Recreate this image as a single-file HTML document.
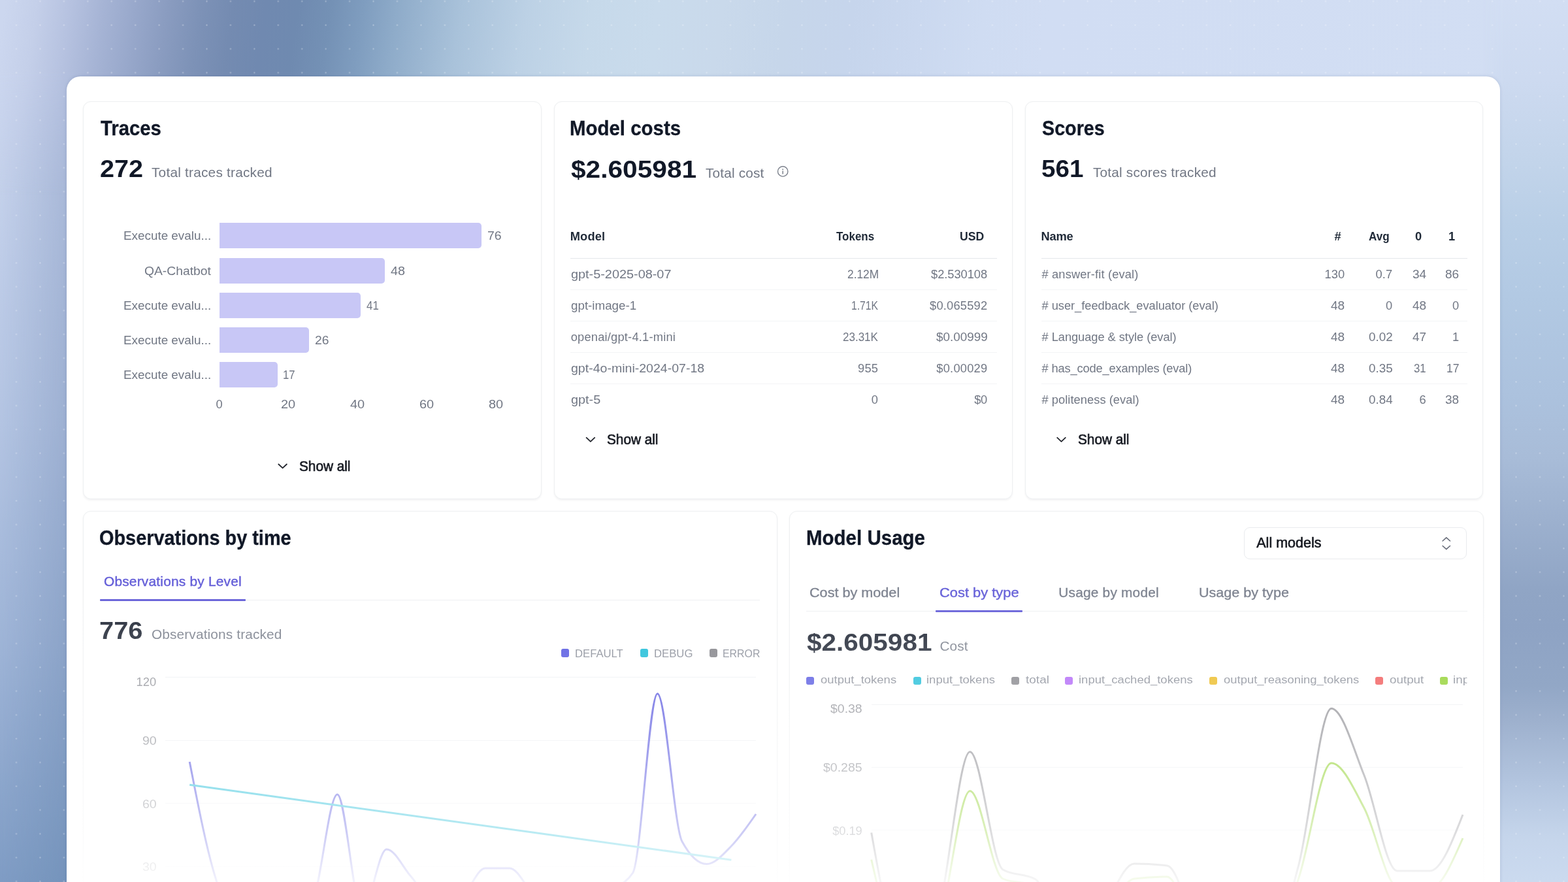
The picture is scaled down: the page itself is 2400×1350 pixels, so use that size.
<!DOCTYPE html>
<html lang="en">
<head>
<meta charset="utf-8">
<title>Dashboard</title>
<style>
html,body{margin:0;padding:0}
body{width:2400px;height:1350px;overflow:hidden;position:relative;background:#b9c8e4;font-family:"Liberation Sans",sans-serif}
.bg{position:absolute;left:0;top:0;width:2400px;height:1350px;overflow:hidden;background:#b9c8e4}
.bg .lb{position:absolute;left:0;top:0;width:130px;height:1350px;
 background:linear-gradient(180deg,#b0bedd 0px,#b0bedd 117px,#a8b8d8 300px,#9db0d2 650px,#8ba3c8 1000px,#7594bc 1350px)}
.bg .la{position:absolute;left:0;top:0;width:130px;height:1350px;
 background:linear-gradient(180deg,#c8d4ee 0px,#c8d4ee 117px,#c3d0ea 300px,#b3c4e2 650px,#9db3d6 1000px,#7f9cc4 1350px);
 -webkit-mask-image:linear-gradient(90deg,#000 0px,transparent 104px);mask-image:linear-gradient(90deg,#000 0px,transparent 104px)}
.bg .right{position:absolute;left:2270px;top:0;width:130px;height:1350px;
 background:linear-gradient(180deg,#d2def3 0px,#cddaf0 120px,#c2d4ea 250px,#b8cee6 350px,#b2c9e3 450px,#acc2de 600px,#a8bcd8 700px,#9cb0ce 800px,#90a5c5 900px,#8ea3c4 960px,#92a7c6 1050px,#9db0cd 1100px,#b3c5df 1200px,#c5d5eb 1280px,#cbdaef 1350px);
 -webkit-mask-image:linear-gradient(90deg,transparent 0px,#000 30px);mask-image:linear-gradient(90deg,transparent 0px,#000 30px)}
.bg .top{position:absolute;left:0;top:0;width:2400px;height:320px;background:linear-gradient(98deg,#ccd7ef 0.33%,#c4cfe9 2.38%,#b6c2e0 4.42%,#a6b4d5 6.47%,#98a8cb 8.51%,#8a9cc0 10.56%,#7d92b7 12.60%,#748bb1 14.65%,#7089b0 16.69%,#6f8ab0 18.74%,#7491b5 20.78%,#7f9dbf 22.83%,#8eabc9 24.87%,#a9c2da 28.96%,#bcd1e5 33.05%,#c6d9ea 37.14%,#c9dbec 41.23%,#c9d9eb 45.32%,#c6d6ea 49.41%,#c6d5ec 53.50%,#cad8ef 57.59%,#cfdcf2 61.68%,#d1ddf3 65.77%,#d2def3 98.49%);
 -webkit-mask-image:linear-gradient(180deg,#000 0px,#000 110px,transparent 300px);mask-image:linear-gradient(180deg,#000 0px,#000 110px,transparent 300px)}
.dots{position:absolute;left:0;top:0;width:2400px;height:1350px;
 background-image:radial-gradient(circle at center,rgba(255,255,255,.36) 0,rgba(255,255,255,.3) .75px,rgba(255,255,255,0) 1.55px);
 background-size:36.44px 36.42px;background-position:6.78px -16.2px}
.panel{position:absolute;left:102px;top:117px;width:2194px;height:1300px;background:#fff;border-radius:21px;box-shadow:0 0 5px rgba(40,55,100,.15)}
.card{position:absolute;box-sizing:border-box;border:1.5px solid #eef0f2;border-radius:12px;background:#fff;box-shadow:0 1.5px 3px rgba(16,24,40,.05)}
.layer{position:absolute;left:0;top:0;width:2400px;height:1350px;overflow:hidden}
.t{position:absolute;white-space:nowrap;line-height:1;font-weight:400;transform-origin:0 0}
.fade{position:absolute;left:102px;top:850px;width:2194px;height:500px;
 background:linear-gradient(180deg,rgba(255,255,255,0) 0px,rgba(255,255,255,.18) 115px,rgba(255,255,255,.30) 191px,rgba(255,255,255,.48) 301px,rgba(255,255,255,.72) 425px,rgba(255,255,255,.87) 477px,rgba(255,255,255,.93) 500px)}
svg{position:absolute;left:0;top:0;overflow:visible}
</style>
</head>
<body>
<div class="bg"><div class="lb"></div><div class="la"></div><div class="top"></div><div class="right"></div><div class="dots"></div></div>
<div class="panel"></div>
<div class="layer">
<div class="card" style="left:126.8px;top:154.9px;width:702.7px;height:609.2px"></div>
<div class="card" style="left:848px;top:154.9px;width:702px;height:609.2px"></div>
<div class="card" style="left:1568.8px;top:154.9px;width:701.7px;height:609.2px"></div>
<div class="card" style="left:126.8px;top:781.6px;width:1063.2px;height:700px"></div>
<div class="card" style="left:1208px;top:781.6px;width:1062.5px;height:700px"></div>
<div style="position:absolute;left:335.50px;top:341.10px;width:401.85px;height:39.10px;background:#c8c7f6;border-radius:0 5px 5px 0;"></div>
<div style="position:absolute;left:335.50px;top:394.70px;width:253.80px;height:39.10px;background:#c8c7f6;border-radius:0 5px 5px 0;"></div>
<div style="position:absolute;left:335.50px;top:447.70px;width:216.79px;height:39.10px;background:#c8c7f6;border-radius:0 5px 5px 0;"></div>
<div style="position:absolute;left:335.50px;top:500.60px;width:137.47px;height:39.10px;background:#c8c7f6;border-radius:0 5px 5px 0;"></div>
<div style="position:absolute;left:335.50px;top:553.60px;width:89.89px;height:39.10px;background:#c8c7f6;border-radius:0 5px 5px 0;"></div>
<svg width="2400" height="1350" viewBox="0 0 2400 1350"><path d="M426.30 710.50 L432.60 716.40 L438.90 710.50" fill="none" stroke="#22252c" stroke-width="1.8" stroke-linecap="round" stroke-linejoin="round"/></svg>
<svg width="2400" height="1350" viewBox="0 0 2400 1350"><circle cx="1198.2" cy="262.4" r="7.7" fill="none" stroke="#7b808b" stroke-width="1.4"/><path d="M1198.2 262 V266" stroke="#7b808b" stroke-width="1.5" stroke-linecap="round" fill="none"/><circle cx="1198.2" cy="259.2" r="0.95" fill="#7b808b"/></svg>
<div style="position:absolute;left:873.00px;top:394.50px;width:653.00px;height:1.50px;background:#e5e7eb;"></div>
<div style="position:absolute;left:873.00px;top:442.50px;width:653.00px;height:1.10px;background:#f3f4f6;"></div>
<div style="position:absolute;left:1594.00px;top:442.50px;width:652.00px;height:1.10px;background:#f3f4f6;"></div>
<div style="position:absolute;left:873.00px;top:490.70px;width:653.00px;height:1.10px;background:#f3f4f6;"></div>
<div style="position:absolute;left:1594.00px;top:490.70px;width:652.00px;height:1.10px;background:#f3f4f6;"></div>
<div style="position:absolute;left:873.00px;top:538.90px;width:653.00px;height:1.10px;background:#f3f4f6;"></div>
<div style="position:absolute;left:1594.00px;top:538.90px;width:652.00px;height:1.10px;background:#f3f4f6;"></div>
<div style="position:absolute;left:873.00px;top:587.00px;width:653.00px;height:1.10px;background:#f3f4f6;"></div>
<div style="position:absolute;left:1594.00px;top:587.00px;width:652.00px;height:1.10px;background:#f3f4f6;"></div>
<svg width="2400" height="1350" viewBox="0 0 2400 1350"><path d="M897.60 669.90 L903.90 675.80 L910.20 669.90" fill="none" stroke="#22252c" stroke-width="1.8" stroke-linecap="round" stroke-linejoin="round"/></svg>
<div style="position:absolute;left:1594.00px;top:394.50px;width:652.00px;height:1.50px;background:#e5e7eb;"></div>
<svg width="2400" height="1350" viewBox="0 0 2400 1350"><path d="M1618.20 669.90 L1624.50 675.80 L1630.80 669.90" fill="none" stroke="#22252c" stroke-width="1.8" stroke-linecap="round" stroke-linejoin="round"/></svg>
<div style="position:absolute;left:153.00px;top:917.70px;width:1010.00px;height:1.20px;background:#eceef1;"></div>
<div style="position:absolute;left:152.50px;top:916.70px;width:223.00px;height:3.30px;background:#5b55d6;border-radius:1px;"></div>
<div style="position:absolute;left:858.90px;top:993.30px;width:12.30px;height:12.30px;background:#4547de;border-radius:3px;"></div>
<div style="position:absolute;left:979.60px;top:993.30px;width:12.30px;height:12.30px;background:#06b6d4;border-radius:3px;"></div>
<div style="position:absolute;left:1085.60px;top:993.30px;width:12.30px;height:12.30px;background:#78787e;border-radius:3px;"></div>
<div style="position:absolute;left:252.50px;top:1036.30px;width:904.50px;height:1.10px;background:#eceef1;"></div>
<div style="position:absolute;left:252.50px;top:1132.80px;width:904.50px;height:1.10px;background:#eceef1;"></div>
<div style="position:absolute;left:252.50px;top:1229.30px;width:904.50px;height:1.10px;background:#eceef1;"></div>
<div style="position:absolute;left:252.50px;top:1325.80px;width:904.50px;height:1.10px;background:#eceef1;"></div>
<div style="position:absolute;box-sizing:border-box;left:1904px;top:807.3px;width:341px;height:48.5px;border:1.5px solid #e9ebee;border-radius:9px;background:#fff"></div>
<svg width="2400" height="1350" viewBox="0 0 2400 1350"><path d="M2208.1 828.0 L2213.8 822.9 L2219.5 828.0 M2208.1 835.5 L2213.8 840.6 L2219.5 835.5" fill="none" stroke="#636875" stroke-width="1.5" stroke-linecap="round" stroke-linejoin="round"/></svg>
<div style="position:absolute;left:1234.00px;top:935.20px;width:1012.00px;height:1.20px;background:#eceef1;"></div>
<div style="position:absolute;left:1431.75px;top:933.80px;width:133.50px;height:3.40px;background:#5b55d6;border-radius:1px;"></div>
<div style="position:absolute;left:1233.80px;top:1035.50px;width:12.30px;height:12.30px;background:#4547de;border-radius:3px;"></div>
<div style="position:absolute;left:1397.50px;top:1035.50px;width:12.30px;height:12.30px;background:#06b6d4;border-radius:3px;"></div>
<div style="position:absolute;left:1548.00px;top:1035.50px;width:12.30px;height:12.30px;background:#78787e;border-radius:3px;"></div>
<div style="position:absolute;left:1630.00px;top:1035.50px;width:12.30px;height:12.30px;background:#a855f7;border-radius:3px;"></div>
<div style="position:absolute;left:1851.00px;top:1035.50px;width:12.30px;height:12.30px;background:#eab308;border-radius:3px;"></div>
<div style="position:absolute;left:2105.00px;top:1035.50px;width:12.30px;height:12.30px;background:#ef4444;border-radius:3px;"></div>
<div style="position:absolute;left:2204.00px;top:1035.50px;width:12.30px;height:12.30px;background:#84cc16;border-radius:3px;"></div>
<div style="position:absolute;left:1333.75px;top:1077.75px;width:905.50px;height:1.10px;background:#eceef1;"></div>
<div style="position:absolute;left:1333.75px;top:1174.00px;width:905.50px;height:1.10px;background:#eceef1;"></div>
<div style="position:absolute;left:1333.75px;top:1270.25px;width:905.50px;height:1.10px;background:#eceef1;"></div>
<svg width="2400" height="1350" viewBox="0 0 2400 1350"><path d="M290.19,1166.00C302.75,1230.33,315.32,1294.67,327.88,1337.00C340.44,1379.33,353.01,1420.00,365.57,1420.00C378.13,1420.00,390.70,1420.00,403.26,1420.00C415.82,1420.00,428.39,1420.00,440.95,1420.00C453.51,1420.00,466.08,1406.67,478.64,1380.00C491.20,1353.33,503.77,1216.00,516.33,1216.00C528.89,1216.00,541.46,1395.00,554.02,1395.00C566.58,1395.00,579.15,1300.00,591.71,1300.00C604.27,1300.00,616.84,1327.83,629.40,1342.00C641.96,1356.17,654.53,1385.00,667.09,1385.00C679.65,1385.00,692.22,1381.67,704.78,1375.00C717.34,1368.33,729.91,1329.00,742.47,1329.00C755.03,1329.00,767.60,1329.00,780.16,1329.00C792.72,1329.00,805.29,1359.17,817.85,1371.00C830.41,1382.83,842.98,1400.00,855.54,1400.00C868.10,1400.00,880.67,1400.00,893.23,1400.00C905.79,1400.00,918.36,1375.67,930.92,1365.00C943.48,1354.33,956.05,1355.33,968.61,1336.00C981.17,1316.67,993.74,1061.80,1006.30,1061.80C1018.86,1061.80,1031.43,1265.00,1043.99,1288.00C1056.55,1311.00,1069.12,1322.50,1081.68,1322.50C1094.24,1322.50,1106.81,1307.75,1119.37,1295.00C1131.93,1282.25,1144.50,1264.12,1157.06,1246.00" fill="none" stroke="#4a48dc" stroke-width="3" stroke-linejoin="round"/><path d="M290.19,1201.25L1119.37,1316.20" fill="none" stroke="#06b6d4" stroke-width="3"/></svg>
<svg width="2400" height="1350" viewBox="0 0 2400 1350"><path d="M1333.75,1315.75C1350.51,1389.38,1367.28,1463.00,1384.04,1463.00C1400.80,1463.00,1417.57,1448.67,1434.33,1420.00C1451.09,1391.33,1467.86,1210.75,1484.62,1210.75C1501.38,1210.75,1518.15,1337.67,1534.91,1345.00C1551.67,1352.33,1568.44,1348.67,1585.20,1356.00C1601.96,1363.33,1618.73,1463.00,1635.49,1463.00C1652.25,1463.00,1669.02,1429.67,1685.78,1410.00C1702.54,1390.33,1719.31,1347.00,1736.07,1345.00C1752.83,1343.00,1769.60,1342.00,1786.36,1342.00C1803.12,1342.00,1819.89,1424.67,1836.65,1440.00C1853.41,1455.33,1870.18,1463.00,1886.94,1463.00C1903.70,1463.00,1920.47,1463.00,1937.23,1463.00C1953.99,1463.00,1970.76,1394.17,1987.52,1345.00C2004.28,1295.83,2021.05,1168.00,2037.81,1168.00C2054.57,1168.00,2071.34,1205.50,2088.10,1237.00C2104.86,1268.50,2121.63,1355.00,2138.39,1357.00C2155.15,1359.00,2171.92,1360.00,2188.68,1360.00C2205.44,1360.00,2222.21,1321.50,2238.97,1283.00" fill="none" stroke="#84cc16" stroke-width="3" stroke-linejoin="round"/><path d="M1333.75,1274.50C1350.51,1368.75,1367.28,1463.00,1384.04,1463.00C1400.80,1463.00,1417.57,1442.00,1434.33,1400.00C1451.09,1358.00,1467.86,1150.75,1484.62,1150.75C1501.38,1150.75,1518.15,1321.00,1534.91,1331.00C1551.67,1341.00,1568.44,1336.00,1585.20,1346.00C1601.96,1356.00,1618.73,1463.00,1635.49,1463.00C1652.25,1463.00,1669.02,1419.50,1685.78,1396.00C1702.54,1372.50,1719.31,1322.00,1736.07,1322.00C1752.83,1322.00,1769.60,1323.00,1786.36,1325.00C1803.12,1327.00,1819.89,1406.33,1836.65,1429.00C1853.41,1451.67,1870.18,1463.00,1886.94,1463.00C1903.70,1463.00,1920.47,1463.00,1937.23,1463.00C1953.99,1463.00,1970.76,1388.08,1987.52,1325.00C2004.28,1261.92,2021.05,1084.50,2037.81,1084.50C2054.57,1084.50,2071.34,1145.58,2088.10,1187.00C2104.86,1228.42,2121.63,1333.00,2138.39,1333.00C2155.15,1333.00,2171.92,1333.00,2188.68,1333.00C2205.44,1333.00,2222.21,1290.00,2238.97,1247.00" fill="none" stroke="#85858b" stroke-width="3" stroke-linejoin="round"/></svg>
<span class="t" style="left:153.70px;top:180.00px;font-size:32px;color:#111827;transform:scaleX(0.9143);font-weight:700;-webkit-text-stroke:0.35px #111827;">Traces</span>
<span class="t" style="left:152.65px;top:240.00px;font-size:37.5px;color:#111827;transform:scaleX(1.0542);font-weight:700;">272</span>
<span class="t" style="left:232.00px;top:254.00px;font-size:20.8px;color:#717784;letter-spacing:0.224px;">Total traces tracked</span>
<span class="t" style="left:189.47px;top:352.00px;font-size:18.3px;color:#717784;transform:scaleX(1.0313);">Execute evalu...</span>
<span class="t" style="left:745.95px;top:352.00px;font-size:18.3px;color:#717784;transform:scaleX(1.0661);">76</span>
<span class="t" style="left:220.75px;top:406.00px;font-size:18.3px;color:#717784;transform:scaleX(1.0549);">QA-Chatbot</span>
<span class="t" style="left:597.90px;top:406.00px;font-size:18.3px;color:#717784;transform:scaleX(1.0810);">48</span>
<span class="t" style="left:189.47px;top:459.00px;font-size:18.3px;color:#717784;transform:scaleX(1.0313);">Execute evalu...</span>
<span class="t" style="left:560.89px;top:459.00px;font-size:18.3px;color:#717784;transform:scaleX(0.9223);">41</span>
<span class="t" style="left:189.47px;top:512.00px;font-size:18.3px;color:#717784;transform:scaleX(1.0313);">Execute evalu...</span>
<span class="t" style="left:481.58px;top:512.00px;font-size:18.3px;color:#717784;transform:scaleX(1.0562);">26</span>
<span class="t" style="left:189.47px;top:565.00px;font-size:18.3px;color:#717784;transform:scaleX(1.0313);">Execute evalu...</span>
<span class="t" style="left:433.07px;top:565.00px;font-size:18.3px;color:#717784;transform:scaleX(0.9130);">17</span>
<span class="t" style="left:330.50px;top:610.00px;font-size:18.3px;color:#717784;">0</span>
<span class="t" style="left:430.25px;top:610.00px;font-size:18.3px;color:#717784;transform:scaleX(1.0909);">20</span>
<span class="t" style="left:536.00px;top:610.00px;font-size:18.3px;color:#717784;transform:scaleX(1.0909);">40</span>
<span class="t" style="left:641.75px;top:610.00px;font-size:18.3px;color:#717784;transform:scaleX(1.0909);">60</span>
<span class="t" style="left:747.50px;top:610.00px;font-size:18.3px;color:#717784;transform:scaleX(1.0909);">80</span>
<span class="t" style="left:458.00px;top:704.00px;font-size:21.5px;color:#1a1d25;transform:scaleX(0.9654);-webkit-text-stroke:0.7px #1a1d25;">Show all</span>
<span class="t" style="left:871.91px;top:180.00px;font-size:32px;color:#111827;transform:scaleX(0.9197);font-weight:700;-webkit-text-stroke:0.35px #111827;">Model costs</span>
<span class="t" style="left:873.75px;top:241.00px;font-size:37.5px;color:#111827;transform:scaleX(1.0841);font-weight:700;">$2.605981</span>
<span class="t" style="left:1080.00px;top:255.00px;font-size:20.8px;color:#717784;letter-spacing:0.159px;">Total cost</span>
<span class="t" style="left:872.75px;top:353.00px;font-size:18.3px;color:#1f2937;letter-spacing:0.130px;font-weight:700;">Model</span>
<span class="t" style="left:1280.00px;top:353.00px;font-size:18.3px;color:#1f2937;transform:scaleX(0.9283);font-weight:700;">Tokens</span>
<span class="t" style="left:1468.54px;top:353.00px;font-size:18.3px;color:#1f2937;transform:scaleX(0.9627);font-weight:700;">USD</span>
<span class="t" style="left:873.75px;top:411.00px;font-size:18.3px;color:#717784;transform:scaleX(1.0861);">gpt-5-2025-08-07</span>
<span class="t" style="left:1296.75px;top:411.00px;font-size:18.3px;color:#717784;transform:scaleX(0.9480);">2.12M</span>
<span class="t" style="left:1425.00px;top:411.00px;font-size:18.3px;color:#717784;letter-spacing:-0.031px;">$2.530108</span>
<span class="t" style="left:873.75px;top:459.00px;font-size:18.3px;color:#717784;transform:scaleX(1.0269);">gpt-image-1</span>
<span class="t" style="left:1302.83px;top:459.00px;font-size:18.3px;color:#717784;transform:scaleX(0.8600);">1.71K</span>
<span class="t" style="left:1423.00px;top:459.00px;font-size:18.3px;color:#717784;letter-spacing:0.219px;">$0.065592</span>
<span class="t" style="left:873.75px;top:507.00px;font-size:18.3px;color:#717784;letter-spacing:0.198px;">openai/gpt-4.1-mini</span>
<span class="t" style="left:1290.00px;top:507.00px;font-size:18.3px;color:#717784;transform:scaleX(0.9308);">23.31K</span>
<span class="t" style="left:1432.50px;top:507.00px;font-size:18.3px;color:#717784;transform:scaleX(1.0318);">$0.00999</span>
<span class="t" style="left:873.75px;top:555.00px;font-size:18.3px;color:#717784;transform:scaleX(1.0688);">gpt-4o-mini-2024-07-18</span>
<span class="t" style="left:1313.00px;top:555.00px;font-size:18.3px;color:#717784;letter-spacing:0.208px;">955</span>
<span class="t" style="left:1433.25px;top:555.00px;font-size:18.3px;color:#717784;letter-spacing:0.238px;">$0.00029</span>
<span class="t" style="left:873.75px;top:603.00px;font-size:18.3px;color:#717784;transform:scaleX(1.0843);">gpt-5</span>
<span class="t" style="left:1333.75px;top:603.00px;font-size:18.3px;color:#717784;">0</span>
<span class="t" style="left:1491.25px;top:603.00px;font-size:18.3px;color:#717784;letter-spacing:-0.417px;">$0</span>
<span class="t" style="left:929.30px;top:663.00px;font-size:21.5px;color:#1a1d25;transform:scaleX(0.9654);-webkit-text-stroke:0.7px #1a1d25;">Show all</span>
<span class="t" style="left:1595.00px;top:180.00px;font-size:32px;color:#111827;transform:scaleX(0.8968);font-weight:700;-webkit-text-stroke:0.35px #111827;">Scores</span>
<span class="t" style="left:1593.97px;top:240.00px;font-size:37.5px;color:#111827;transform:scaleX(1.0295);font-weight:700;">561</span>
<span class="t" style="left:1673.00px;top:254.00px;font-size:20.8px;color:#717784;letter-spacing:0.191px;">Total scores tracked</span>
<span class="t" style="left:1593.50px;top:353.00px;font-size:18.3px;color:#1f2937;letter-spacing:-0.208px;font-weight:700;">Name</span>
<span class="t" style="left:2042.50px;top:353.00px;font-size:18.3px;color:#1f2937;font-weight:700;">#</span>
<span class="t" style="left:2095.00px;top:353.00px;font-size:18.3px;color:#1f2937;transform:scaleX(0.9330);font-weight:700;">Avg</span>
<span class="t" style="left:2166.00px;top:353.00px;font-size:18.3px;color:#1f2937;font-weight:700;">0</span>
<span class="t" style="left:2217.00px;top:353.00px;font-size:18.3px;color:#1f2937;font-weight:700;">1</span>
<span class="t" style="left:1594.50px;top:411.00px;font-size:18.3px;color:#717784;letter-spacing:0.142px;"># answer-fit (eval)</span>
<span class="t" style="left:2027.50px;top:411.00px;font-size:18.3px;color:#717784;letter-spacing:0.083px;">130</span>
<span class="t" style="left:2105.50px;top:411.00px;font-size:18.3px;color:#717784;letter-spacing:0.127px;">0.7</span>
<span class="t" style="left:2161.50px;top:411.00px;font-size:18.3px;color:#717784;transform:scaleX(1.0413);">34</span>
<span class="t" style="left:2212.00px;top:411.00px;font-size:18.3px;color:#717784;transform:scaleX(1.0413);">86</span>
<span class="t" style="left:1594.50px;top:459.00px;font-size:18.3px;color:#717784;letter-spacing:-0.032px;"># user_feedback_evaluator (eval)</span>
<span class="t" style="left:2037.00px;top:459.00px;font-size:18.3px;color:#717784;transform:scaleX(1.0413);">48</span>
<span class="t" style="left:2121.00px;top:459.00px;font-size:18.3px;color:#717784;">0</span>
<span class="t" style="left:2161.50px;top:459.00px;font-size:18.3px;color:#717784;transform:scaleX(1.0413);">48</span>
<span class="t" style="left:2223.00px;top:459.00px;font-size:18.3px;color:#717784;">0</span>
<span class="t" style="left:1594.50px;top:507.00px;font-size:18.3px;color:#717784;letter-spacing:-0.051px;"># Language &amp; style (eval)</span>
<span class="t" style="left:2037.00px;top:507.00px;font-size:18.3px;color:#717784;transform:scaleX(1.0413);">48</span>
<span class="t" style="left:2094.50px;top:507.00px;font-size:18.3px;color:#717784;transform:scaleX(1.0307);">0.02</span>
<span class="t" style="left:2161.50px;top:507.00px;font-size:18.3px;color:#717784;transform:scaleX(1.0413);">47</span>
<span class="t" style="left:2223.00px;top:507.00px;font-size:18.3px;color:#717784;">1</span>
<span class="t" style="left:1594.50px;top:555.00px;font-size:18.3px;color:#717784;letter-spacing:-0.156px;"># has_code_examples (eval)</span>
<span class="t" style="left:2037.00px;top:555.00px;font-size:18.3px;color:#717784;transform:scaleX(1.0413);">48</span>
<span class="t" style="left:2094.50px;top:555.00px;font-size:18.3px;color:#717784;transform:scaleX(1.0307);">0.35</span>
<span class="t" style="left:2164.00px;top:555.00px;font-size:18.3px;color:#717784;transform:scaleX(0.9173);">31</span>
<span class="t" style="left:2213.53px;top:555.00px;font-size:18.3px;color:#717784;transform:scaleX(0.9652);">17</span>
<span class="t" style="left:1594.50px;top:603.00px;font-size:18.3px;color:#717784;letter-spacing:0.041px;"># politeness (eval)</span>
<span class="t" style="left:2037.00px;top:603.00px;font-size:18.3px;color:#717784;transform:scaleX(1.0413);">48</span>
<span class="t" style="left:2094.50px;top:603.00px;font-size:18.3px;color:#717784;transform:scaleX(1.0307);">0.84</span>
<span class="t" style="left:2172.50px;top:603.00px;font-size:18.3px;color:#717784;">6</span>
<span class="t" style="left:2212.00px;top:603.00px;font-size:18.3px;color:#717784;transform:scaleX(1.0413);">38</span>
<span class="t" style="left:1650.00px;top:663.00px;font-size:21.5px;color:#1a1d25;transform:scaleX(0.9654);-webkit-text-stroke:0.7px #1a1d25;">Show all</span>
<span class="t" style="left:152.10px;top:807.00px;font-size:32px;color:#111827;transform:scaleX(0.9022);font-weight:700;-webkit-text-stroke:0.35px #111827;">Observations by time</span>
<span class="t" style="left:159.00px;top:880.00px;font-size:20.8px;color:#5b55d6;letter-spacing:0.243px;-webkit-text-stroke:0.45px #5b55d6;">Observations by Level</span>
<span class="t" style="left:151.94px;top:947.00px;font-size:37.5px;color:#111827;transform:scaleX(1.0624);font-weight:700;">776</span>
<span class="t" style="left:232.00px;top:961.00px;font-size:20.8px;color:#717784;letter-spacing:0.148px;">Observations tracked</span>
<span class="t" style="left:880.29px;top:992.00px;font-size:17.3px;color:#7d828e;transform:scaleX(0.9645);">DEFAULT</span>
<span class="t" style="left:1001.03px;top:992.00px;font-size:17.3px;color:#7d828e;transform:scaleX(0.9665);">DEBUG</span>
<span class="t" style="left:1106.08px;top:992.00px;font-size:17.3px;color:#7d828e;transform:scaleX(0.9191);">ERROR</span>
<span class="t" style="left:208.50px;top:1035.00px;font-size:18.3px;color:#85878e;letter-spacing:0.083px;">120</span>
<span class="t" style="left:217.50px;top:1125.00px;font-size:18.3px;color:#85878e;transform:scaleX(1.0661);">90</span>
<span class="t" style="left:217.50px;top:1222.00px;font-size:18.3px;color:#85878e;transform:scaleX(1.0661);">60</span>
<span class="t" style="left:217.50px;top:1318.00px;font-size:18.3px;color:#85878e;transform:scaleX(1.0661);">30</span>
<span class="t" style="left:1233.76px;top:807.00px;font-size:32px;color:#111827;transform:scaleX(0.9220);font-weight:700;-webkit-text-stroke:0.35px #111827;">Model Usage</span>
<span class="t" style="left:1923.25px;top:821.00px;font-size:21.5px;color:#15181f;letter-spacing:0.008px;-webkit-text-stroke:0.6px #15181f;">All models</span>
<span class="t" style="left:1239.46px;top:897.00px;font-size:20.8px;color:#727886;transform:scaleX(1.0396);-webkit-text-stroke:0.35px #727886;">Cost by model</span>
<span class="t" style="left:1437.70px;top:897.00px;font-size:20.8px;color:#5b55d6;transform:scaleX(1.0524);-webkit-text-stroke:0.45px #5b55d6;">Cost by type</span>
<span class="t" style="left:1620.25px;top:897.00px;font-size:20.8px;color:#727886;letter-spacing:0.238px;-webkit-text-stroke:0.35px #727886;">Usage by model</span>
<span class="t" style="left:1835.21px;top:897.00px;font-size:20.8px;color:#727886;transform:scaleX(1.0371);-webkit-text-stroke:0.35px #727886;">Usage by type</span>
<span class="t" style="left:1234.50px;top:965.00px;font-size:37.5px;color:#111827;transform:scaleX(1.0799);font-weight:700;">$2.605981</span>
<span class="t" style="left:1438.50px;top:979.00px;font-size:20.8px;color:#717784;letter-spacing:0.089px;">Cost</span>
<span class="t" style="left:1255.50px;top:1032.00px;font-size:17.3px;color:#7d828e;transform:scaleX(1.0695);">output_tokens</span>
<span class="t" style="left:1417.68px;top:1032.00px;font-size:17.3px;color:#7d828e;transform:scaleX(1.0708);">input_tokens</span>
<span class="t" style="left:1570.00px;top:1032.00px;font-size:17.3px;color:#7d828e;transform:scaleX(1.0998);">total</span>
<span class="t" style="left:1650.93px;top:1032.00px;font-size:17.3px;color:#7d828e;transform:scaleX(1.0695);">input_cached_tokens</span>
<span class="t" style="left:1872.50px;top:1032.00px;font-size:17.3px;color:#7d828e;transform:scaleX(1.0671);">output_reasoning_tokens</span>
<span class="t" style="left:2126.50px;top:1032.00px;font-size:17.3px;color:#7d828e;transform:scaleX(1.0882);">output</span>
<span class="t" style="left:2224.41px;top:1032.00px;font-size:17.3px;color:#7d828e;transform:scaleX(1.0907);clip-path:inset(-5px calc(100% - 19.6px) -5px -5px);">input</span>
<span class="t" style="left:1271.00px;top:1076.00px;font-size:18.3px;color:#85878e;transform:scaleX(1.0640);">$0.38</span>
<span class="t" style="left:1260.00px;top:1166.00px;font-size:18.3px;color:#85878e;transform:scaleX(1.0673);">$0.285</span>
<span class="t" style="left:1274.25px;top:1263.00px;font-size:18.3px;color:#85878e;letter-spacing:-0.083px;">$0.19</span>
</div>
<div class="fade"></div>
</body>
</html>
